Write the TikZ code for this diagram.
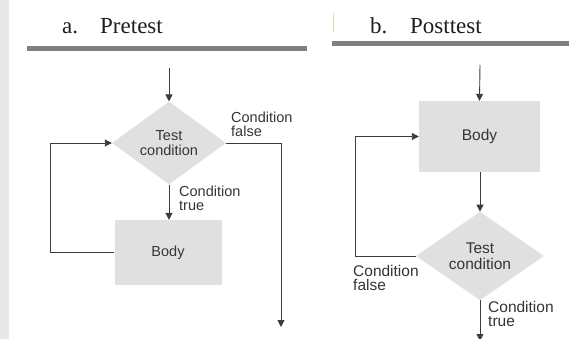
\documentclass[tikz,border=0pt]{standalone}
\usepackage{fontspec}
\setmainfont{Liberation Serif}
\setsansfont{Liberation Sans}
\usetikzlibrary{shapes.geometric,arrows.meta}
\definecolor{boxfill}{HTML}{E0E0E0}
\definecolor{linecol}{HTML}{3C3C3C}
\definecolor{txtcol}{HTML}{353535}
\definecolor{rulecol}{HTML}{808080}
\definecolor{stripcol}{HTML}{E8E8E8}
\definecolor{tickcol}{HTML}{C4E8BC}
\tikzset{
  flow/.style={draw=linecol, line width=0.9pt, -{Triangle[width=7pt,length=7pt]}},
  plain/.style={draw=linecol, line width=0.9pt},
  decA/.style={shape=diamond, fill=boxfill, inner sep=0pt, minimum width=114pt, minimum height=80pt, font=\sffamily\fontsize{14.5}{14.5}\selectfont, text=txtcol, align=center},
  decB/.style={shape=diamond, fill=boxfill, inner sep=0pt, minimum width=128pt, minimum height=88pt, font=\sffamily\fontsize{15.5}{15.5}\selectfont, text=txtcol, align=center},
  bodyA/.style={shape=rectangle, fill=boxfill, inner sep=0pt, minimum width=107pt, minimum height=65pt, font=\sffamily\fontsize{14.5}{14.5}\selectfont, text=txtcol},
  bodyB/.style={shape=rectangle, fill=boxfill, inner sep=0pt, minimum width=121pt, minimum height=71pt, font=\sffamily\fontsize{15.5}{15.5}\selectfont, text=txtcol},
  lblA/.style={font=\sffamily\fontsize{14.5}{14}\selectfont, text=txtcol, align=left, inner sep=0pt, anchor=north west},
  lblB/.style={font=\sffamily\fontsize{15.5}{14.5}\selectfont, text=txtcol, align=left, inner sep=0pt, anchor=north west},
  ttl/.style={font=\fontsize{23}{23}\selectfont, text=black!88, inner sep=0pt, anchor=base west}
}
\begin{document}
\begin{tikzpicture}[x=1pt,y=-1pt]
\useasboundingbox (0,0) rectangle (576,339);
\fill[white] (0,0) rectangle (576,339);
\fill[stripcol] (0,0) rectangle (9,339);
% titles
\node[ttl] (ta) at (62,34) {a.};
\node[ttl] (tb) at (100,34) {Pretest};
\node[ttl] (tc) at (370,34) {b.};
\node[ttl] (td) at (410,34) {Posttest};
\fill[rulecol] (27,46) rectangle (307,51);
\fill[rulecol] (332,41) rectangle (569,46);
\draw[tickcol, line width=1pt] (333,13) -- (333,32);
% ---- pretest ----
\coordinate (s1) at (169,68);
\node[decA] (d1) at (169,143) {Test\\condition};
\node[bodyA] (b1) at (168,252.5) {Body};
\coordinate (e1) at (281,327);
\coordinate (l1) at (50,252.5);
\draw[flow] (s1) -- (d1.north);
\draw[flow] (d1.south) -- (d1.south |- b1.north);
\draw[flow] (d1.east) -| (e1);
\draw[flow] (b1.west) -- (l1) |- (d1.west);
\node[lblA] (f1) at (231,112) {Condition\\false};
\node[lblA] (t1) at (179,186) {Condition\\true};
% ---- posttest ----
\coordinate (s2) at (480,65);
\node[bodyB] (b2) at (479.5,136.5) {Body};
\node[decB] (d2) at (480,256) {Test\\condition};
\coordinate (e2) at (480,341);
\coordinate (l2) at (355,256);
\draw[flow] (s2) -- (b2.north);
\draw[flow] (b2.south -| d2.north) -- (d2.north);
\draw[flow] (d2.west) -- (l2) |- (b2.west);
\draw[flow] (d2.south) -- (e2);
\node[lblB] (f2) at (353,265) {Condition\\false};
\node[lblB] (t2) at (488,301) {Condition\\true};
\end{tikzpicture}
\end{document}
